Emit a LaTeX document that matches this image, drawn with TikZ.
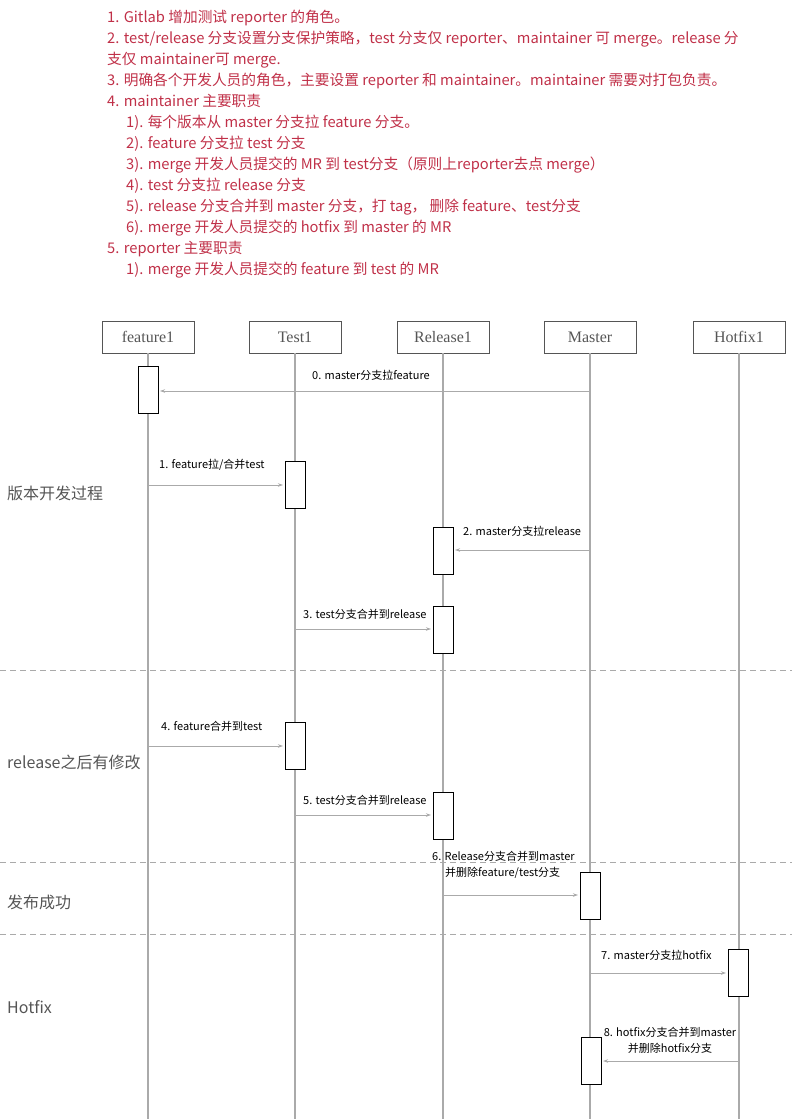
\documentclass[tikz,border=0pt]{standalone}
\usepackage{fontspec}
\setmainfont{Noto Sans CJK SC}
\newfontfamily\hdrfont{Liberation Serif}
\usetikzlibrary{arrows.meta}
\definecolor{notered}{RGB}{192,48,72}
\definecolor{lifegray}{RGB}{170,170,170}
\definecolor{headgray}{RGB}{85,85,85}
\tikzset{
  note/.style={anchor=base west, inner sep=0pt, text=notered, font=\fontsize{14.7}{16}\selectfont},
  head/.style={draw=headgray, line width=0.8pt, minimum width=92pt, minimum height=32pt, inner sep=0pt, text=headgray, font=\hdrfont\fontsize{16}{18}\selectfont},
  life/.style={draw=lifegray, line width=1.5pt},
  act/.style={draw=black, fill=white, line width=1pt, minimum width=20pt, minimum height=47pt, inner sep=0pt},
  msg/.style={draw=lifegray, line width=1pt, -{Stealth[length=5pt,width=3.5pt]}},
  msglabel/.style={inner sep=0pt, font=\fontsize{11}{16}\selectfont, text=black},
  sep/.style={draw=lifegray, line width=0.8pt, dash pattern=on 6pt off 4pt},
  section/.style={anchor=base west, inner sep=0pt, text=headgray, font=\fontsize{16}{18}\selectfont}
}
\begin{document}
\begin{tikzpicture}[x=1pt,y=-1pt]
\useasboundingbox (0,0) rectangle (792,1119);
% notes
\node[note] (n1) at (107,22) {1. Gitlab 增加测试 reporter 的角色。};
\node[note] (n2) at (107,43) {2. test/release 分支设置分支保护策略，test 分支仅 reporter、maintainer 可 merge。release 分};
\node[note] (n2b) at (107,64) {支仅 maintainer可 merge.};
\node[note] (n3) at (107,85) {3. 明确各个开发人员的角色，主要设置 reporter 和 maintainer。maintainer 需要对打包负责。};
\node[note] (n4) at (107,106) {4. maintainer 主要职责};
\node[note] (n41) at (126,127) {1). 每个版本从 master 分支拉 feature 分支。};
\node[note] (n42) at (126,148) {2). feature 分支拉 test 分支};
\node[note] (n43) at (126,169) {3). merge 开发人员提交的 MR 到 test分支（原则上reporter去点 merge）};
\node[note] (n44) at (126,190) {4). test 分支拉 release 分支};
\node[note] (n45) at (126,211) {5). release 分支合并到 master 分支，打 tag， 删除 feature、test分支};
\node[note] (n46) at (126,232) {6). merge 开发人员提交的 hotfix 到 master 的 MR};
\node[note] (n5) at (107,253) {5. reporter 主要职责};
\node[note] (n51) at (126,274) {1). merge 开发人员提交的 feature 到 test 的 MR};

% separators
\coordinate (s1a) at (0,670); \coordinate (s1b) at (792,670);
\coordinate (s2a) at (0,862); \coordinate (s2b) at (792,862);
\coordinate (s3a) at (0,934); \coordinate (s3b) at (792,934);
\draw[sep] (s1a) -- (s1b);
\draw[sep] (s2a) -- (s2b);
\draw[sep] (s3a) -- (s3b);

% headers
\node[head] (hf) at (148,337) {feature1};
\node[head] (ht) at (295,337) {Test1};
\node[head] (hr) at (443,337) {Release1};
\node[head] (hm) at (590,337) {Master};
\node[head] (hh) at (739,337) {Hotfix1};
\coordinate (ef) at (148,1119);
\coordinate (et) at (295,1119);
\coordinate (er) at (443,1119);
\coordinate (em) at (590,1119);
\coordinate (eh) at (739,1119);
\draw[life] (hf.south) -- (ef);
\draw[life] (ht.south) -- (et);
\draw[life] (hr.south) -- (er);
\draw[life] (hm.south) -- (em);
\draw[life] (hh.south) -- (eh);

% section labels
\node[section] (sec1) at (7,499) {版本开发过程};
\node[section] (sec2) at (7,768) {release之后有修改};
\node[section] (sec3) at (7,908) {发布成功};
\node[section] (sec4) at (7,1013) {Hotfix};

% activations
\node[act] (a0) at (148,390) {};
\node[act] (a1) at (295,484.5) {};
\node[act] (a2) at (443,550.5) {};
\node[act] (a3) at (443,629.5) {};
\node[act] (a4) at (295,745.5) {};
\node[act] (a5) at (443,815.5) {};
\node[act] (a6) at (590,895.5) {};
\node[act] (a7) at (738,972.5) {};
\node[act] (a8) at (591,1060.5) {};

% message endpoints on lifelines
\coordinate (m0) at (590,391);
\coordinate (f1) at (148,485);
\coordinate (m2) at (590,550);
\coordinate (t3) at (295,629);
\coordinate (f4) at (148,746);
\coordinate (t5) at (295,815);
\coordinate (r6) at (443,895);
\coordinate (m7) at (590,973);
\coordinate (h8) at (739,1061);

\draw[msg] (m0) -- ([xshift=1.5pt]a0.east |- m0);
\draw[msg] (f1) -- ([xshift=-1.5pt]a1.west |- f1);
\draw[msg] (m2) -- ([xshift=1.5pt]a2.east |- m2);
\draw[msg] (t3) -- ([xshift=-1.5pt]a3.west |- t3);
\draw[msg] (f4) -- ([xshift=-1.5pt]a4.west |- f4);
\draw[msg] (t5) -- ([xshift=-1.5pt]a5.west |- t5);
\draw[msg] (r6) -- ([xshift=-1.5pt]a6.west |- r6);
\draw[msg] (m7) -- ([xshift=-1.5pt]a7.west |- m7);
\draw[msg] (h8) -- ([xshift=1.5pt]a8.east |- h8);

% message labels
\node[msglabel, anchor=west] (l0) at (312,375) {0. master分支拉feature};
\node[msglabel, anchor=west] (l1) at (159,465) {1. feature拉/合并test};
\node[msglabel, anchor=west] (l2) at (463,531) {2. master分支拉release};
\node[msglabel, anchor=west] (l3) at (303,614) {3. test分支合并到release};
\node[msglabel, anchor=west] (l4) at (161,726) {4. feature合并到test};
\node[msglabel, anchor=west] (l5) at (303,800) {5. test分支合并到release};
\node[msglabel, anchor=north west, align=left] (l6) at (432,851) {6. Release分支合并到master\\\hspace*{13pt}并删除feature/test分支};
\node[msglabel, anchor=west] (l7) at (601,955) {7. master分支拉hotfix};
\node[msglabel, anchor=north, align=center] (l8) at (670,1027) {8. hotfix分支合并到master\\并删除hotfix分支};
\end{tikzpicture}
\end{document}
